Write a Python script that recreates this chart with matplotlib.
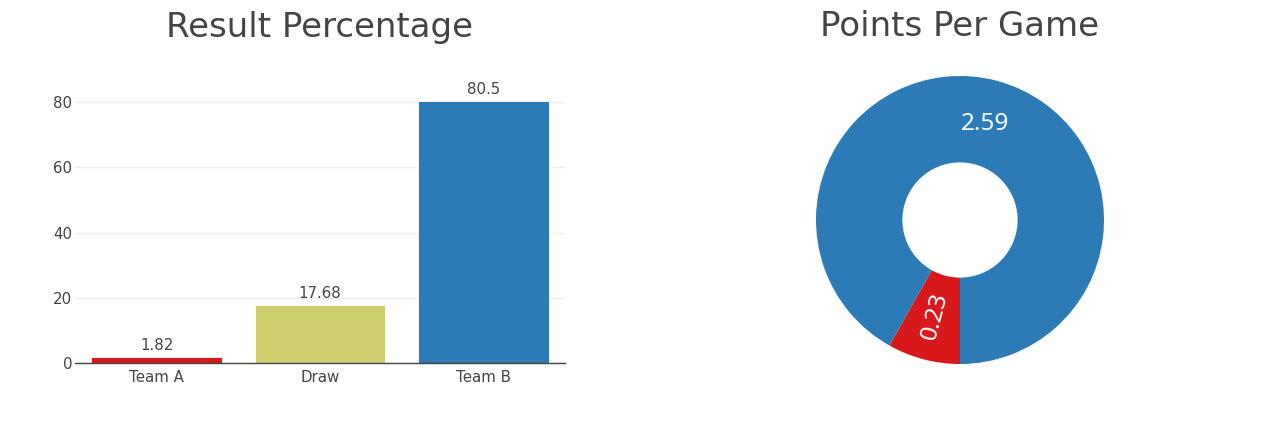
import matplotlib
matplotlib.use("Agg")
import matplotlib.pyplot as plt
import numpy as np

# data
categories = ["Team A", "Draw", "Team B"]
result_pct = [1.82, 17.68, 80.5]
bar_colors = ["#d7191c", "#d0cf6f", "#2c7bb6"]

ppg_labels = ["Team A", "Team B"]
ppg_values = [0.23, 2.59]
pie_colors = ["#d7191c", "#2c7bb6"]

TXT = "#444444"
plt.rcParams["font.family"] = ["DejaVu Sans"]

fig = plt.figure(figsize=(12.77, 4.37), dpi=100)
W, H = 1277, 437

# bar chart, placed in pixel terms
ax1 = fig.add_axes([75 / W, (437 - 363) / H, 490 / W, 276 / H])
x = np.arange(len(categories))
bars = ax1.bar(x, result_pct, width=0.8, color=bar_colors, edgecolor="white", linewidth=0.6, zorder=3)
ax1.set_xlim(-0.5, 2.5)
ax1.set_ylim(0, 84.7)
ax1.set_xticks(x)
ax1.set_xticklabels(categories)
ax1.set_yticks([0, 20, 40, 60, 80])
ax1.tick_params(axis="both", length=0, labelsize=10.8, colors=TXT)
ax1.tick_params(axis="x", pad=5)
ax1.tick_params(axis="y", pad=2)
ax1.grid(axis="y", color="#eeeeee", linewidth=1, zorder=0)
for s in ["top", "right", "left"]:
    ax1.spines[s].set_visible(False)
ax1.spines["bottom"].set_color(TXT)
ax1.spines["bottom"].set_linewidth(1)
ax1.spines["bottom"].set_zorder(4)
for b, v in zip(bars, result_pct):
    ax1.annotate(f"{v:g}", (b.get_x() + b.get_width() / 2, v), xytext=(0, 3),
                 textcoords="offset points", ha="center", va="bottom", fontsize=10.8, color=TXT)
fig.text(320 / W, 1 - 27 / H, "Result Percentage", ha="center", va="center", fontsize=24.5, color=TXT)

# donut
R = 144
ax2 = fig.add_axes([(960 - R) / W, (437 - 220 - R) / H, 2 * R / W, 2 * R / H])
wedges, _ = ax2.pie(ppg_values, colors=pie_colors, startangle=-90, counterclock=False,
                    radius=1, wedgeprops=dict(width=0.6, linewidth=0))
ax2.set_xlim(-1, 1)
ax2.set_ylim(-1, 1)
ax2.set_aspect("equal")
ax2.axis("off")
for w, v in zip(wedges, ppg_values):
    mid = np.deg2rad((w.theta1 + w.theta2) / 2)
    r = 0.69
    frac = v / sum(ppg_values)
    rot = 0
    if frac < 0.15:
        rot = np.rad2deg(mid) - 180
    ax2.text(r * np.cos(mid), r * np.sin(mid), f"{v:g}", ha="center", va="center",
             rotation=rot, rotation_mode="anchor", fontsize=17.5, color="white",
             family=["Noto Sans", "DejaVu Sans"], fontstyle="normal")
fig.text(960 / W, 1 - 27 / H, "Points Per Game", ha="center", va="center", fontsize=24.5, color=TXT)

fig.savefig("out.png", dpi=100)
